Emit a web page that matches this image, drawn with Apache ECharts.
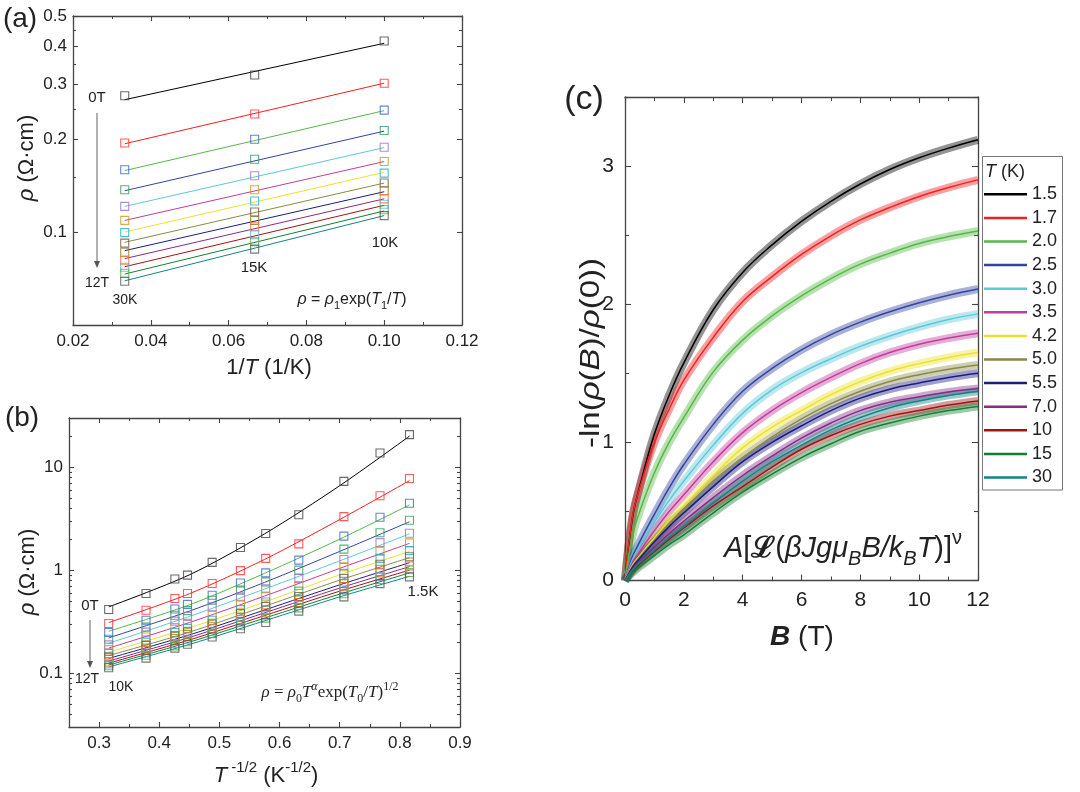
<!DOCTYPE html>
<html>
<head>
<meta charset="utf-8">
<script src="https://cdn.jsdelivr.net/npm/echarts@6/dist/echarts.min.js"></script>
<style>
html, body { margin: 0; padding: 0; background: #fff; }
#main { width: 1080px; height: 792px; }
</style>
</head>
<body>
<div id="main"></div>
<script>
// ---- shared ----
var fields = ['0T', '1T', '2T', '3T', '4T', '5T', '6T', '7T', '8T', '9T', '10T', '11T', '12T'];
var lineColors = ['#000000', '#f02020', '#55b845', '#34449f', '#5cc9d8', '#c23c9e', '#ece22a',
                  '#8a8a48', '#1c1c80', '#862b88', '#a01414', '#128032', '#128484'];
var squareColors = ['#444444', '#ff3535', '#3b66cc', '#2f9e5a', '#9a72c8', '#d0941e', '#1fb0bc',
                    '#7a5040', '#878020', '#ff6a2a', '#6aa6e0', '#4fb03e', '#555555'];

// ---- panel (a): rho vs 1/T ----
var invTa = [0.0333, 0.0667, 0.1];                 // 30K, 15K, 10K
var rhoA30 = [0.276, 0.194, 0.159, 0.137, 0.121, 0.109, 0.0995, 0.092, 0.086, 0.081, 0.0769, 0.0735, 0.0693];
var rhoA15 = [0.322, 0.241, 0.1995, 0.172, 0.152, 0.137, 0.126, 0.116, 0.109, 0.104, 0.098, 0.093, 0.088];
var rhoA10 = [0.415, 0.303, 0.248, 0.213, 0.188, 0.169, 0.155, 0.144, 0.136, 0.128, 0.123, 0.118, 0.113];
var fitA30 = [0.268, 0.193, 0.158, 0.136, 0.121, 0.109, 0.100, 0.0926, 0.087, 0.082, 0.0772, 0.0731, 0.0695];
var fitA10 = [0.408, 0.303, 0.247, 0.212, 0.1875, 0.169, 0.156, 0.144, 0.135, 0.128, 0.122, 0.117, 0.113];
var ticksA = [0.1, 0.2, 0.3, 0.4, 0.5];
var minorA = [0.15, 0.25, 0.35, 0.45];

// ---- panel (b): rho vs T^-1/2 ----
var invSqrtT = [0.316, 0.378, 0.426, 0.447, 0.488, 0.535, 0.577, 0.632, 0.707, 0.767, 0.816];
var rhoB = [
    [0.415, 0.593, 0.82, 0.894, 1.19, 1.66, 2.27, 3.45, 7.28, 13.7, 20.7],
    [0.303, 0.408, 0.53, 0.593, 0.741, 0.99, 1.30, 1.80, 3.31, 5.27, 7.75],
    [0.248, 0.326, 0.42, 0.465, 0.57, 0.75, 0.94, 1.25, 2.14, 3.26, 4.46],
    [0.213, 0.28, 0.365, 0.405, 0.51, 0.64, 0.77, 1.0, 1.60, 2.31, 3.05],
    [0.188, 0.25, 0.32, 0.356, 0.44, 0.55, 0.66, 0.83, 1.27, 1.85, 2.28],
    [0.169, 0.224, 0.277, 0.304, 0.365, 0.467, 0.56, 0.71, 1.08, 1.53, 1.84],
    [0.155, 0.20, 0.248, 0.272, 0.326, 0.414, 0.49, 0.625, 0.93, 1.30, 1.55],
    [0.144, 0.186, 0.229, 0.251, 0.30, 0.378, 0.445, 0.555, 0.83, 1.14, 1.35],
    [0.136, 0.175, 0.217, 0.238, 0.285, 0.351, 0.41, 0.515, 0.74, 1.02, 1.20],
    [0.128, 0.166, 0.205, 0.225, 0.27, 0.331, 0.386, 0.485, 0.69, 0.94, 1.10],
    [0.123, 0.157, 0.194, 0.213, 0.255, 0.312, 0.365, 0.455, 0.64, 0.87, 1.02],
    [0.118, 0.149, 0.184, 0.202, 0.242, 0.291, 0.342, 0.43, 0.59, 0.81, 0.95],
    [0.113, 0.14, 0.175, 0.191, 0.224, 0.27, 0.31, 0.40, 0.55, 0.74, 0.86]
];
var fitBx = [0.316, 0.45, 0.575, 0.70, 0.816];
var fitB = [
    [0.44, 0.90, 2.25, 6.6, 20.0],
    [0.31, 0.59, 1.27, 3.1, 7.4],
    [0.255, 0.46, 0.93, 2.0, 4.3],
    [0.22, 0.40, 0.76, 1.52, 2.95],
    [0.195, 0.355, 0.655, 1.23, 2.25],
    [0.175, 0.31, 0.56, 1.04, 1.82],
    [0.16, 0.275, 0.49, 0.90, 1.52],
    [0.148, 0.25, 0.445, 0.80, 1.32],
    [0.139, 0.235, 0.41, 0.72, 1.18],
    [0.131, 0.222, 0.385, 0.67, 1.08],
    [0.125, 0.21, 0.362, 0.625, 1.0],
    [0.12, 0.20, 0.342, 0.585, 0.94],
    [0.115, 0.19, 0.322, 0.55, 0.87]
];
var ticksB = [0.1, 1, 10];
var minorB = [0.04, 0.05, 0.06, 0.07, 0.08, 0.09, 0.2, 0.3, 0.4, 0.5, 0.6, 0.7, 0.8, 0.9,
              2, 3, 4, 5, 6, 7, 8, 9, 20];
var xTicksB = [0.3, 0.4, 0.5, 0.6, 0.7, 0.8, 0.9];
var xMinorB = [0.35, 0.45, 0.55, 0.65, 0.75, 0.85];

// ---- panel (c): -ln(rho(B)/rho(0)) vs B ----
var fieldB = [0, 0.25, 0.5, 1, 1.5, 2, 3, 4, 5, 6, 7, 8, 9, 10, 11, 12];
var tempsC = ['1.5', '1.7', '2.0', '2.5', '3.0', '3.5', '4.2', '5.0', '5.5', '7.0', '10', '15', '30'];
var mrC = [
    [0, 0.45, 0.68, 1.06, 1.34, 1.575, 1.96, 2.23, 2.43, 2.60, 2.745, 2.87, 2.975, 3.06, 3.13, 3.19],
    [0, 0.46, 0.67, 1.00, 1.24, 1.45, 1.76, 2.02, 2.20, 2.36, 2.495, 2.61, 2.70, 2.78, 2.845, 2.90],
    [0, 0.32, 0.50, 0.78, 1.00, 1.18, 1.51, 1.74, 1.915, 2.06, 2.185, 2.29, 2.37, 2.44, 2.49, 2.53],
    [0, 0.17, 0.28, 0.48, 0.67, 0.84, 1.13, 1.37, 1.535, 1.67, 1.78, 1.87, 1.945, 2.01, 2.065, 2.11],
    [0, 0.15, 0.25, 0.42, 0.58, 0.72, 0.98, 1.21, 1.38, 1.505, 1.605, 1.695, 1.77, 1.835, 1.89, 1.93],
    [0, 0.13, 0.21, 0.36, 0.50, 0.62, 0.86, 1.07, 1.23, 1.36, 1.47, 1.57, 1.65, 1.71, 1.755, 1.79],
    [0, 0.11, 0.18, 0.31, 0.43, 0.54, 0.76, 0.96, 1.11, 1.23, 1.345, 1.44, 1.515, 1.57, 1.615, 1.65],
    [0, 0.10, 0.17, 0.29, 0.41, 0.51, 0.72, 0.89, 1.04, 1.17, 1.28, 1.37, 1.44, 1.49, 1.53, 1.56],
    [0, 0.095, 0.16, 0.28, 0.39, 0.49, 0.68, 0.86, 1.00, 1.12, 1.23, 1.32, 1.385, 1.43, 1.47, 1.50],
    [0, 0.08, 0.14, 0.24, 0.34, 0.43, 0.60, 0.76, 0.90, 1.03, 1.14, 1.23, 1.29, 1.33, 1.365, 1.39],
    [0, 0.07, 0.12, 0.21, 0.30, 0.38, 0.54, 0.68, 0.82, 0.95, 1.05, 1.13, 1.19, 1.23, 1.27, 1.30],
    [0, 0.055, 0.10, 0.18, 0.26, 0.33, 0.49, 0.64, 0.77, 0.89, 0.99, 1.08, 1.14, 1.19, 1.23, 1.26],
    [0, 0.075, 0.13, 0.22, 0.31, 0.39, 0.56, 0.72, 0.86, 0.98, 1.09, 1.18, 1.25, 1.30, 1.34, 1.37]
];

var FONT = 'Arial, "Liberation Sans", sans-serif';
var SERIF = '"Liberation Serif", "Times New Roman", serif';
var AX = '#444';

function lg(v) { return Math.log10(v); }
function logFmt(v) { return String(Number(Math.pow(10, v).toPrecision(2))); }

// one axis of a framed Origin-style plot (ticks inside)
function axis(o) {
    var a = {
        type: 'value', gridIndex: o.grid, position: o.pos, min: o.min, max: o.max,
        axisLine: { show: o.line !== false, onZero: false, lineStyle: { color: AX, width: 1.3 } },
        axisTick: { show: true, inside: true, length: o.tickLen || 5, lineStyle: { color: AX, width: 1.1 } },
        axisLabel: { show: !!o.labels, margin: o.margin || 6, color: '#222', fontFamily: FONT, fontSize: o.fontSize || 17 },
        minorTick: { show: !!o.minorSplit, splitNumber: o.minorSplit || 5, length: o.minorLen || 3, lineStyle: { color: AX, width: 1 } },
        splitLine: { show: false },
        minorSplitLine: { show: false }
    };
    if (o.fmt) a.axisLabel.formatter = o.fmt;
    if (o.interval) a.interval = o.interval;
    if (o.ticks) {
        a.axisTick.customValues = o.ticks;
        a.axisLabel.customValues = o.ticks;
    }
    return a;
}

var xAxes = [
    // (a)
    axis({ grid: 0, pos: 'bottom', min: 0.02, max: 0.12, interval: 0.02, minorSplit: 2, labels: true, margin: 8,
           fmt: function (v) { return v.toFixed(2); } }),
    axis({ grid: 0, pos: 'top', min: 0.02, max: 0.12, interval: 0.02, minorSplit: 2 }),
    // (b)
    axis({ grid: 1, pos: 'bottom', min: 0.25, max: 0.9, ticks: xTicksB, labels: true, margin: 8,
           fmt: function (v) { return v.toFixed(1); } }),
    axis({ grid: 1, pos: 'bottom', min: 0.25, max: 0.9, ticks: xMinorB, line: false, tickLen: 3 }),
    axis({ grid: 1, pos: 'top', min: 0.25, max: 0.9, ticks: xTicksB }),
    axis({ grid: 1, pos: 'top', min: 0.25, max: 0.9, ticks: xMinorB, line: false, tickLen: 3 }),
    // (c)
    axis({ grid: 2, pos: 'bottom', min: 0, max: 12, interval: 2, minorSplit: 2, labels: true, margin: 9, fontSize: 21,
           tickLen: 6, minorLen: 4 }),
    axis({ grid: 2, pos: 'top', min: 0, max: 12, interval: 2, minorSplit: 2, tickLen: 6, minorLen: 4 })
];

var yAxes = [
    // (a)
    axis({ grid: 0, pos: 'left', min: lg(0.05), max: lg(0.5), ticks: ticksA.map(lg), labels: true, fmt: logFmt, margin: 6 }),
    axis({ grid: 0, pos: 'left', min: lg(0.05), max: lg(0.5), ticks: minorA.map(lg), line: false, tickLen: 3 }),
    axis({ grid: 0, pos: 'right', min: lg(0.05), max: lg(0.5), ticks: ticksA.map(lg) }),
    axis({ grid: 0, pos: 'right', min: lg(0.05), max: lg(0.5), ticks: minorA.map(lg), line: false, tickLen: 3 }),
    // (b)
    axis({ grid: 1, pos: 'left', min: lg(0.03), max: lg(30), ticks: ticksB.map(lg), labels: true, fmt: logFmt, margin: 6 }),
    axis({ grid: 1, pos: 'left', min: lg(0.03), max: lg(30), ticks: minorB.map(lg), line: false, tickLen: 3 }),
    axis({ grid: 1, pos: 'right', min: lg(0.03), max: lg(30), ticks: ticksB.map(lg) }),
    axis({ grid: 1, pos: 'right', min: lg(0.03), max: lg(30), ticks: minorB.map(lg), line: false, tickLen: 3 }),
    // (c)
    axis({ grid: 2, pos: 'left', min: 0, max: 3.5, ticks: [0, 1, 2, 3], labels: true, margin: 11, fontSize: 21, tickLen: 6 }),
    axis({ grid: 2, pos: 'left', min: 0, max: 3.5, ticks: [0.5, 1.5, 2.5, 3.5], line: false, tickLen: 4 }),
    axis({ grid: 2, pos: 'right', min: 0, max: 3.5, ticks: [0, 1, 2, 3], tickLen: 6 }),
    axis({ grid: 2, pos: 'right', min: 0, max: 3.5, ticks: [0.5, 1.5, 2.5, 3.5], line: false, tickLen: 4 })
];

var series = [];

// (a) fit lines and squares
fields.forEach(function (f, i) {
    series.push({
        name: f + ' fit a', type: 'line', xAxisIndex: 0, yAxisIndex: 0, symbol: 'none', silent: true,
        data: [[invTa[0], lg(fitA30[i])], [invTa[2], lg(fitA10[i])]],
        lineStyle: { color: lineColors[i], width: 1 }, z: 2
    });
    series.push({
        name: f + ' a', type: 'scatter', xAxisIndex: 0, yAxisIndex: 0, symbol: 'rect', symbolSize: 8, silent: true,
        data: [[invTa[0], lg(rhoA30[i])], [invTa[1], lg(rhoA15[i])], [invTa[2], lg(rhoA10[i])]],
        itemStyle: { color: 'rgba(0,0,0,0)', borderColor: squareColors[i], borderWidth: 1.1, opacity: 0.8 }, z: 3
    });
});

// (b) fit curves and squares
fields.forEach(function (f, i) {
    series.push({
        name: f + ' fit b', type: 'line', xAxisIndex: 2, yAxisIndex: 4, symbol: 'none', silent: true,
        smooth: 0.3,
        data: fitBx.map(function (x, k) { return [x, lg(fitB[i][k])]; }),
        lineStyle: { color: lineColors[i], width: 1 }, z: 2
    });
    series.push({
        name: f + ' b', type: 'scatter', xAxisIndex: 2, yAxisIndex: 4, symbol: 'rect', symbolSize: 8, silent: true,
        data: invSqrtT.map(function (x, k) { return [x, lg(rhoB[i][k])]; }),
        itemStyle: { color: 'rgba(0,0,0,0)', borderColor: squareColors[i], borderWidth: 1.1, opacity: 0.8 }, z: 3
    });
});

// (c) data bands then fit lines
tempsC.forEach(function (t, i) {
    series.push({
        name: t + ' data', type: 'line', xAxisIndex: 6, yAxisIndex: 8, symbol: 'none', silent: true,
        smooth: 0.4,
        data: fieldB.map(function (b, k) { return [b, mrC[i][k]]; }),
        lineStyle: { color: lineColors[i], width: 8, opacity: 0.42 }, z: 2
    });
});
tempsC.forEach(function (t, i) {
    series.push({
        name: t, type: 'line', xAxisIndex: 6, yAxisIndex: 8, symbol: 'none', silent: true,
        smooth: 0.4,
        data: fieldB.map(function (b, k) { return [b, mrC[i][k]]; }),
        itemStyle: { color: lineColors[i] },
        lineStyle: { color: lineColors[i], width: 1.5 }, z: 3
    });
});

// text helpers for graphic annotations
function fnt(size, family, style, weight) {
    return { fontSize: size, fontFamily: family || FONT, fontStyle: style || 'normal', fontWeight: weight || 'normal' };
}
function mix(a, b) { var o = {}; for (var k in a) o[k] = a[k]; for (var k2 in b) o[k2] = b[k2]; return o; }
function txt(x, y, text, size, opts) {
    opts = opts || {};
    var st = mix(fnt(size, opts.family, opts.style, opts.weight), {
        text: text, fill: '#222', align: opts.align || 'center', textAlign: opts.align || 'center',
        verticalAlign: 'middle', textVerticalAlign: 'middle'
    });
    if (opts.rich) { st.rich = opts.rich; st.lineHeight = opts.lineHeight || Math.round(size * 1.4); }
    var el = { type: 'text', x: x, y: y, rotation: opts.rotation || 0, z: 10, style: st };
    if (opts.scaleX) el.scaleX = opts.scaleX;
    return el;
}
function richSet(size, family) {
    var lh = Math.round(size * 1.4);
    var sm = Math.round(size * 0.68);
    return {
        i: mix(fnt(size, family, 'italic'), { lineHeight: lh }),
        n: mix(fnt(size, family), { lineHeight: lh }),
        b: mix(fnt(size, family, 'italic', 'bold'), { lineHeight: lh }),
        L: mix(fnt(size, family, 'normal', 'bold'), { lineHeight: lh }),
        sub: mix(fnt(sm, family), { lineHeight: sm + 2, verticalAlign: 'bottom' }),
        isub: mix(fnt(sm, family, 'italic'), { lineHeight: sm + 2, verticalAlign: 'bottom' }),
        sup: mix(fnt(sm, family), { lineHeight: sm + 2, verticalAlign: 'top' }),
        isup: mix(fnt(sm, family, 'italic'), { lineHeight: sm + 2, verticalAlign: 'top' })
    };
}
function arrow(x, y1, y2) {
    return [
        { type: 'line', z: 10, shape: { x1: x, y1: y1, x2: x, y2: y2 - 5 }, style: { stroke: '#888', lineWidth: 1.3 } },
        { type: 'polygon', z: 10, shape: { points: [[x - 3, y2 - 7], [x + 3, y2 - 7], [x, y2]] }, style: { fill: '#555' } }
    ];
}

var graphics = [
    // panel letters
    txt(20, 19, '(a)', 28),
    txt(22, 418, '(b)', 28),
    txt(584, 100, '(c)', 34),
    // axis titles
    txt(269, 368, '1/{i|T} (1/K)', 22, { rich: richSet(22) }),
    txt(27, 158, '{i|ρ} (Ω·cm)', 22, { rich: richSet(22), rotation: Math.PI / 2 }),
    txt(266, 776, '{i|T}{sup| -1/2} (K{sup|-1/2})', 22, { rich: richSet(22) }),
    txt(28, 572, '{i|ρ} (Ω·cm)', 22, { rich: richSet(22), rotation: Math.PI / 2 }),
    txt(802, 637, '{b|B} (T)', 28, { rich: richSet(28) }),
    txt(591, 353, '-ln({i|ρ}({i|B})/{i|ρ}(0))', 28, { rich: richSet(28), rotation: Math.PI / 2, scaleX: 1.18 }),
    // panel (a) annotations
    txt(97, 98, '0T', 15),
    txt(97, 283, '12T', 14),
    txt(125, 300, '30K', 14),
    txt(254, 268, '15K', 15),
    txt(385, 243, '10K', 15),
    txt(352, 300, '{i|ρ} = {i|ρ}{sub|1}exp({i|T}{sub|1}/{i|T})', 16, { rich: richSet(16) }),
    // panel (b) annotations
    txt(90, 606, '0T', 15),
    txt(87, 679, '12T', 14),
    txt(121, 687, '10K', 14),
    txt(423, 592, '1.5K', 15),
    txt(330, 693, '{i|ρ} = {i|ρ}{sub|0}{i|T}{isup|α}exp({i|T}{sub|0}/{i|T}){sup|1/2}', 17,
        { rich: richSet(17, SERIF), family: SERIF }),
    // panel (c) formula
    txt(843, 549, '{i|A}[{L|ℒ}({i|βJgμ}{isub|B}{i|B/k}{isub|B}{i|T})]{sup|ν}', 29, { rich: richSet(29) }),
    // legend frame and title
    { type: 'rect', z: 9, shape: { x: 982.5, y: 156.5, width: 80, height: 333.5 },
      style: { fill: '#fff', stroke: '#777', lineWidth: 1 } },
    txt(985, 172, '{i|T} (K)', 18, { rich: richSet(18), align: 'left' })
].concat(arrow(97, 113, 268), arrow(90, 620, 668));

var option = {
    backgroundColor: '#fff',
    animation: false,
    textStyle: { fontFamily: FONT },
    grid: [
        { left: 73, top: 16, width: 389, height: 309 },
        { left: 69, top: 418, width: 391, height: 309 },
        { left: 625, top: 97, width: 353, height: 483.5 }
    ],
    xAxis: xAxes,
    yAxis: yAxes,
    legend: {
        data: tempsC, orient: 'vertical', left: 984, top: 182.5, padding: 0, z: 12,
        icon: 'rect', itemWidth: 43, itemHeight: 2.5, itemGap: 0, selectedMode: false,
        textStyle: { fontSize: 18, lineHeight: 23.6, color: '#222', fontFamily: FONT }
    },
    graphic: graphics,
    series: series
};

var chart = echarts.init(document.getElementById('main'));
chart.setOption(option);
</script>
</body>
</html>
